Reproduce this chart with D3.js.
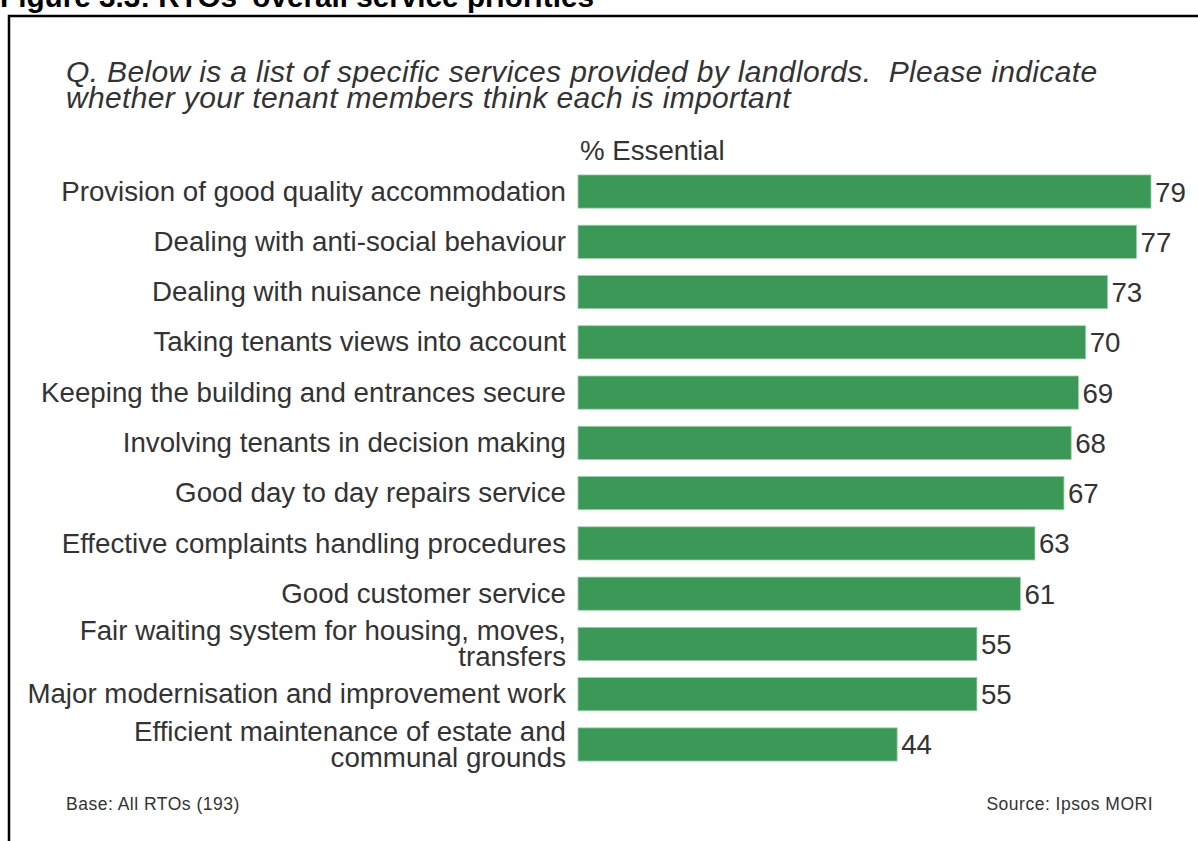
<!DOCTYPE html>
<html><head><meta charset="utf-8">
<script src="https://cdn.jsdelivr.net/npm/d3@7"></script>
<style>
html,body{margin:0;padding:0;background:#fff;}
svg{display:block;}
text{font-family:"Liberation Sans",Arial,sans-serif;}
</style></head>
<body>
<script>
const categories = [
  ["Provision of good quality accommodation"],
  ["Dealing with anti-social behaviour"],
  ["Dealing with nuisance neighbours"],
  ["Taking tenants views into account"],
  ["Keeping the building and entrances secure"],
  ["Involving tenants in decision making"],
  ["Good day to day repairs service"],
  ["Effective complaints handling procedures"],
  ["Good customer service"],
  ["Fair waiting system for housing, moves,", "transfers"],
  ["Major modernisation and improvement work"],
  ["Efficient maintenance of estate and", "communal grounds"]
];
const values = [79, 77, 73, 70, 69, 68, 67, 63, 61, 55, 55, 44];
const figureTitle = "Figure 3.3: RTOs' overall service priorities";
const questionLines = [
  "Q. Below is a list of specific services provided by landlords.  Please indicate",
  "whether your tenant members think each is important"
];
const axisTitle = "% Essential";
const baseNote = "Base: All RTOs (193)";
const sourceNote = "Source: Ipsos MORI";

const W = 1198, H = 841;
const svg = d3.select("body").append("svg").attr("width", W).attr("height", H);

// frame
svg.append("rect").attr("x", 9).attr("y", 16).attr("width", W + 20).attr("height", H + 20)
  .attr("fill", "none").attr("stroke", "#000").attr("stroke-width", 2.5);

svg.append("text").attr("x", 0).attr("y", 7).attr("font-size", 29.7).attr("font-weight", "bold")
  .attr("fill", "#000").text(figureTitle);

svg.selectAll("text.q").data(questionLines).enter().append("text")
  .attr("class", "q").attr("x", 66).attr("y", (d, i) => 82 + i * 25.5)
  .attr("font-size", 30).attr("font-style", "italic").attr("letter-spacing", 0.35)
  .style("white-space", "pre").attr("fill", "#333").text(d => d);

const x0 = 578;
const x = d3.scaleLinear().domain([0, 79]).range([x0, 1151]);
const y = d3.scaleBand().domain(d3.range(values.length)).range([175 - 8.6, 761 + 8.6]).paddingInner(0.34).paddingOuter(0.17);

svg.append("text").attr("x", 580).attr("y", 160).attr("font-size", 27.7).attr("fill", "#333").text(axisTitle);

const g = svg.append("g");
g.selectAll("rect.bar").data(values).enter().append("rect")
  .attr("class", "bar")
  .attr("x", x(0)).attr("y", (d, i) => y(i))
  .attr("width", d => x(d) - x(0)).attr("height", y.bandwidth())
  .attr("fill", "#3c9857").attr("stroke", "#9fd0ac").attr("stroke-width", 0.8);

g.selectAll("text.val").data(values).enter().append("text")
  .attr("class", "val").attr("x", d => x(d) + 4).attr("y", (d, i) => y(i) + y.bandwidth() / 2)
  .attr("dy", "0.36em").attr("font-size", 27.7).attr("fill", "#333").text(d => d);

const labels = g.selectAll("text.lab").data(categories).enter().append("text")
  .attr("class", "lab").attr("text-anchor", "end").attr("font-size", 27.7).attr("fill", "#333")
  .attr("y", (d, i) => y(i) + y.bandwidth() / 2);
labels.each(function(d) {
  const t = d3.select(this);
  const n = d.length;
  d.forEach((line, j) => {
    t.append("tspan").attr("x", 566)
      .attr("dy", j === 0 ? (0.33 - (n - 1) * 0.47) + "em" : "0.94em")
      .text(line);
  });
});

svg.append("text").attr("x", 66).attr("y", 810).attr("font-size", 17.5).attr("letter-spacing", 0.5).attr("fill", "#333").text(baseNote);
svg.append("text").attr("x", 1153).attr("y", 810).attr("text-anchor", "end").attr("font-size", 17.5).attr("letter-spacing", 0.5).attr("fill", "#333").text(sourceNote);
</script>
</body></html>
